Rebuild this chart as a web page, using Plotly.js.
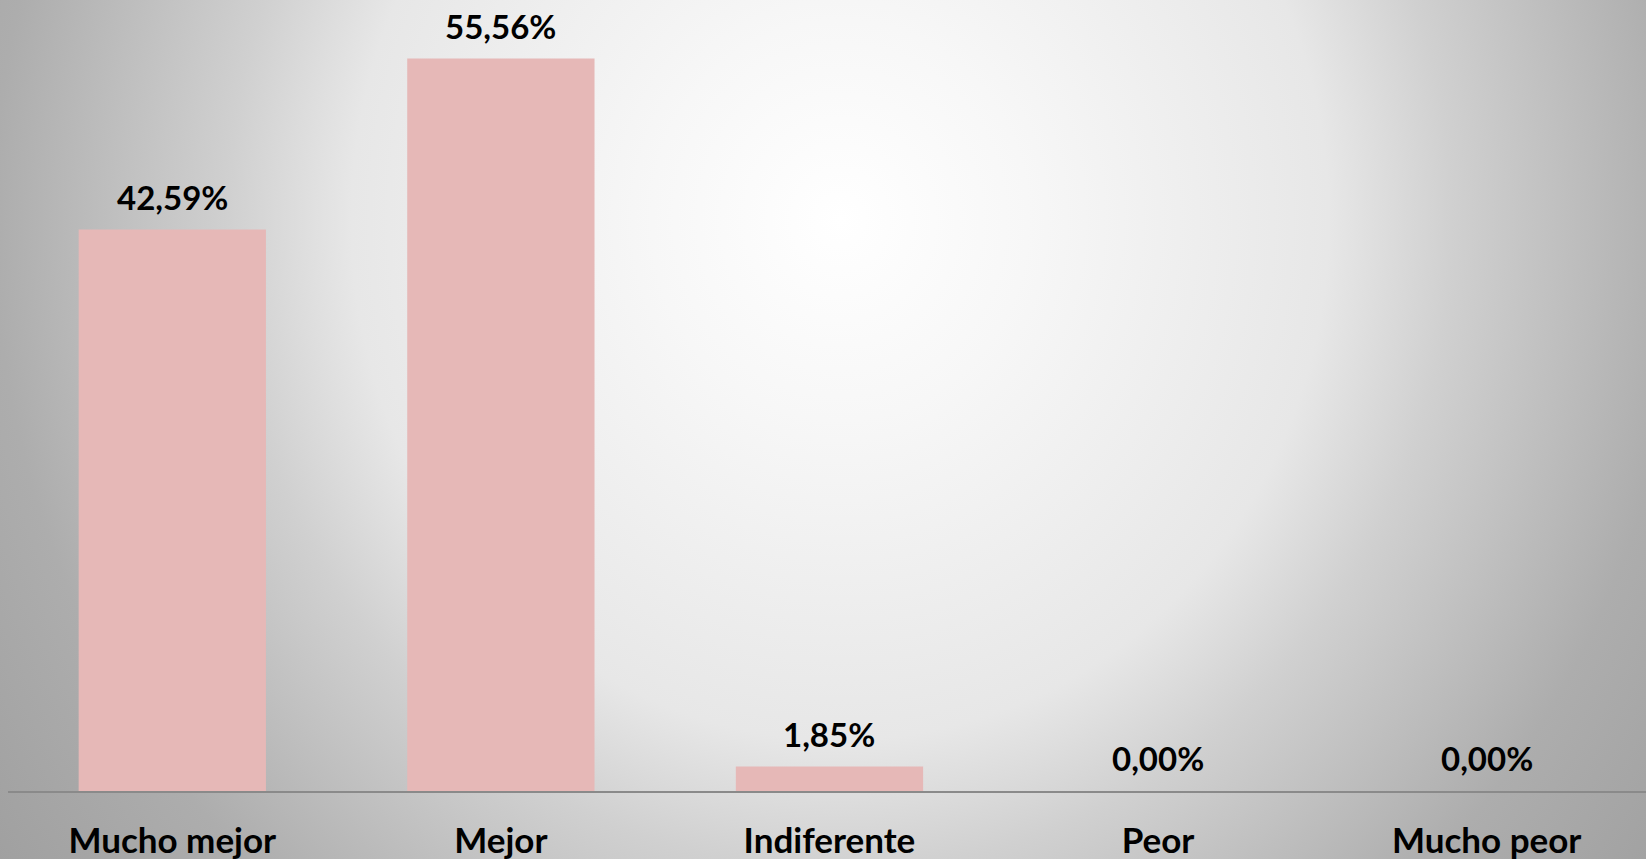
<!DOCTYPE html>
<html>
<head>
<meta charset="utf-8">
<script src="https://cdn.plot.ly/plotly-3.0.1.min.js"></script>
<style>
  html, body { margin: 0; padding: 0; }
  #chart {
    width: 1646px; height: 859px;
    background: radial-gradient(ellipse 940px 1000px at 840px 220px,
      #ffffff 0%, #f7f7f7 20%, #e7e7e7 52%, #d0d0d0 65%, #adadad 90%, #a0a0a0 110%);
  }
</style>
</head>
<body>
<div id="chart"></div>
<script>
const categories = ["Mucho mejor", "Mejor", "Indiferente", "Peor", "Mucho peor"];
const values = [42.59, 55.56, 1.85, 0.00, 0.00];
const labels = values.map(v => v.toFixed(2).replace('.', ',') + '%');

const fontFamily = "Lato, 'Open Sans', sans-serif";

const trace = {
  type: 'bar',
  x: categories,
  y: values,
  marker: { color: '#E6B8B7' },
  hoverinfo: 'skip'
};

const annotations = categories.map((c, i) => ({
  x: c, y: values[i], xref: 'x', yref: 'y',
  text: labels[i], showarrow: false,
  yanchor: 'middle', yshift: 33,
  font: { family: fontFamily, size: 33, color: '#000000', weight: 'bold' }
}));

const layout = {
  width: 1646, height: 859,
  margin: { l: 8, r: 0, t: 0, b: 68 },
  paper_bgcolor: 'rgba(0,0,0,0)',
  plot_bgcolor: 'rgba(0,0,0,0)',
  bargap: 0.43,
  showlegend: false,
  xaxis: {
    type: 'category',
    range: [-0.5, 4.485],
    showline: true, linecolor: '#8a8a8a', linewidth: 2,
    showgrid: false, zeroline: false, ticks: '',
    ticklabelstandoff: 18,
    automargin: false,
    tickfont: { family: fontFamily, size: 35, color: '#000000', weight: 'bold' }
  },
  yaxis: {
    range: [0, 60],
    visible: false, showgrid: false, zeroline: false,
    automargin: false
  },
  annotations: annotations
};

Plotly.newPlot('chart', [trace], layout, { displayModeBar: false, staticPlot: true });
</script>
</body>
</html>
